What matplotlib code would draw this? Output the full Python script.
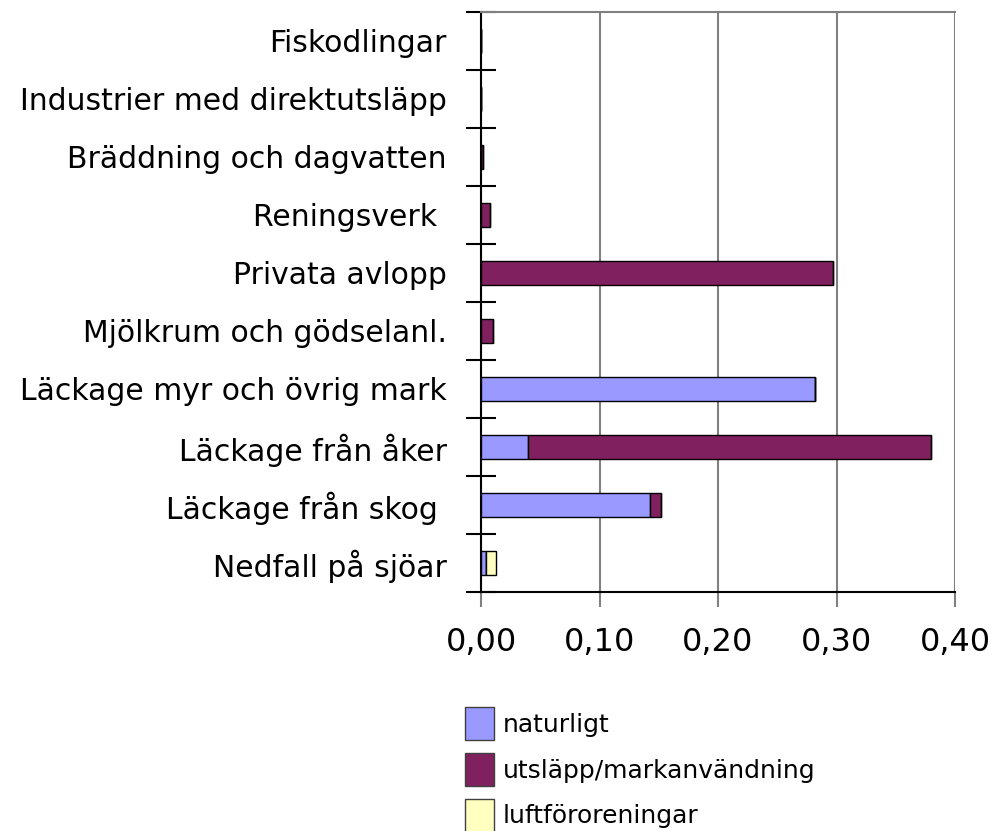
import matplotlib.pyplot as plt
import matplotlib.patches as mpatches
from matplotlib.ticker import FixedLocator, FuncFormatter

# DATA (bottom to top)
categories = [
    "Nedfall på sjöar",
    "Läckage från skog ",
    "Läckage från åker",
    "Läckage myr och övrig mark",
    "Mjölkrum och gödselanl.",
    "Privata avlopp",
    "Reningsverk ",
    "Bräddning och dagvatten",
    "Industrier med direktutsläpp",
    "Fiskodlingar",
]
naturligt = [0.004, 0.143, 0.040, 0.282, 0.0, 0.0, 0.0, 0.0, 0.0, 0.0]
utslapp = [0.0, 0.009, 0.340, 0.0, 0.010, 0.297, 0.008, 0.002, 0.0003, 0.0003]
luft = [0.009, 0.0, 0.0, 0.0, 0.0, 0.0, 0.0, 0.0, 0.0, 0.0]
series_names = ["naturligt", "utsläpp/markanvändning", "luftföroreningar"]
colors = ["#9999ff", "#80205f", "#ffffc0"]
xticks = [0.0, 0.1, 0.2, 0.3, 0.4]

fig = plt.figure(figsize=(9.97, 8.31), dpi=100)
ax = fig.add_axes([481 / 997, 1 - 592 / 831, (955 - 481) / 997, (592 - 12) / 831])

y = list(range(len(categories)))
left = [0.0] * len(categories)
for vals, col, name in zip([naturligt, utslapp, luft], colors, series_names):
    ax.barh(y, vals, left=left, height=0.4, color=col, edgecolor="black",
            linewidth=1.0, zorder=3, label=name)
    left = [a + b for a, b in zip(left, vals)]

ax.set_xlim(0, 0.4)
ax.set_ylim(-0.5, len(categories) - 0.5)

ax.xaxis.set_major_locator(FixedLocator(xticks))
ax.xaxis.set_major_formatter(FuncFormatter(lambda v, p: f"{v:.2f}".replace(".", ",")))
ax.tick_params(axis="x", labelsize=23, length=11, width=1.5, color="#808080",
               direction="out", pad=14)
ax.grid(axis="x", color="#808080", linewidth=1.5, zorder=0)

ax.set_yticks(y)
ax.set_yticklabels(categories, fontsize=21.5)
ax.yaxis.set_minor_locator(FixedLocator([i + 0.5 for i in range(-1, len(categories))]))
ax.tick_params(axis="y", which="major", length=0, pad=24.5)
ax.tick_params(axis="y", which="minor", length=22, width=1.5, direction="inout", color="black")

for s in ["left", "bottom"]:
    ax.spines[s].set_color("black")
    ax.spines[s].set_linewidth(1.5)
ax.spines["top"].set_color("#808080")
ax.spines["top"].set_linewidth(1.5)
ax.spines["right"].set_visible(False)

handles = [mpatches.Patch(facecolor=c, edgecolor="#404040", linewidth=1.0) for c in colors]
fig.legend(handles, series_names, loc="upper left", bbox_to_anchor=(455 / 997, 1 - 697 / 831),
           frameon=False, fontsize=18, handlelength=1.15, handleheight=1.65,
           handletextpad=0.35, labelspacing=0.52, borderaxespad=0)

fig.savefig("out.png", dpi=100)
